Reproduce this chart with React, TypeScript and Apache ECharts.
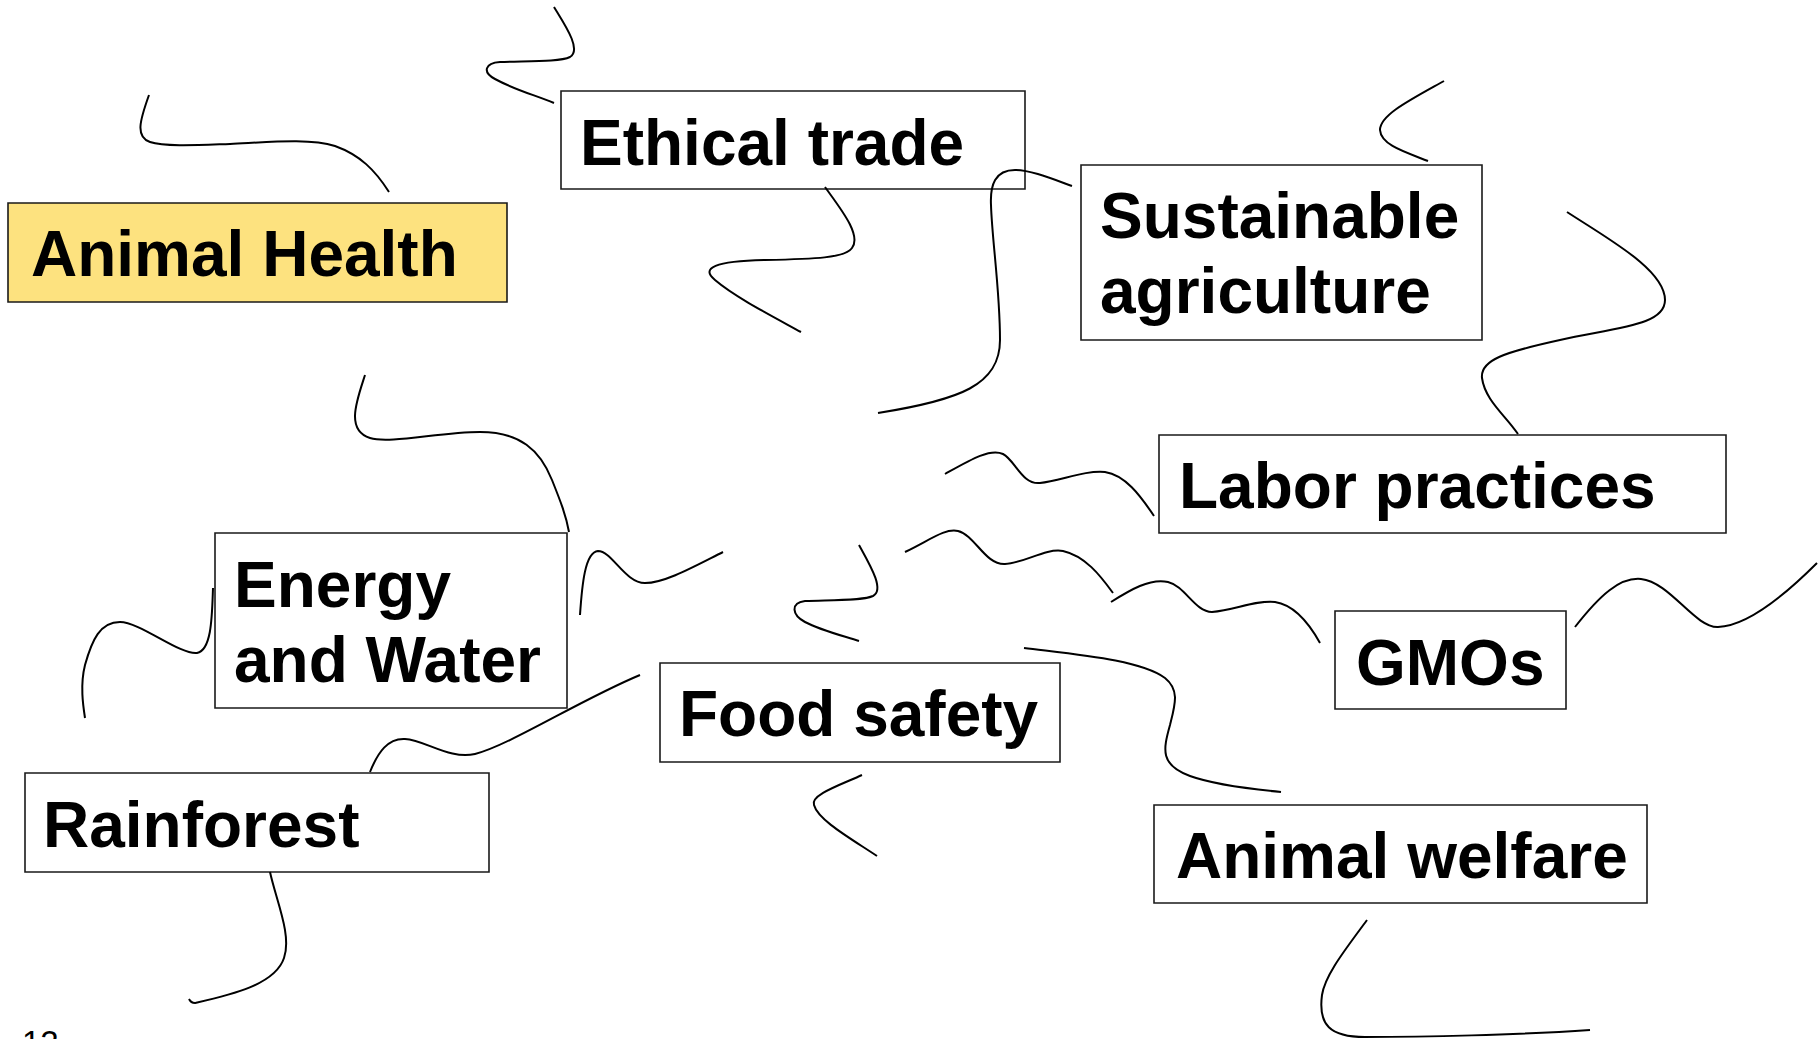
import React, { useEffect, useRef } from "react";
import * as echarts from "echarts";

// Topic labels (one entry per box, line breaks as "\n")
const topics: string[] = [
  "Animal Health",
  "Ethical trade",
  "Sustainable\nagriculture",
  "Labor practices",
  "Energy\nand Water",
  "GMOs",
  "Food safety",
  "Rainforest",
  "Animal welfare",
];
const highlighted: string[] = ["Animal Health"];
const pageNumber = "12";

// Layout of each box: [left, top, right, bottom, textX, firstBaseline]
const boxLayout: number[][] = [
  [8, 203, 507, 302, 31, 276],
  [561, 91, 1025, 189, 580, 165],
  [1081, 165, 1482, 340, 1100, 238],
  [1159, 435, 1726, 533, 1179, 508],
  [215, 533, 567, 708, 234, 607],
  [1335, 611, 1566, 709, 1356, 685],
  [660, 663, 1060, 762, 679, 736],
  [25, 773, 489, 872, 43, 847],
  [1154, 805, 1647, 903, 1176, 878],
];

// Decorative squiggle paths (SVG path data)
const squiggles: string[] = [
  "M149,95 C140,120 135,137 150,142 C165,147 200,145 230,144 C270,142 310,138 335,146 C360,155 375,170 389,192",
  "M554,7 C565,25 582,50 570,57 C560,62 530,61 500,62 C485,63 482,72 495,79 C515,90 535,95 554,103",
  "M825,187 C840,208 862,235 852,248 C845,258 815,259 765,260 C715,261 700,268 715,280 C735,297 770,315 801,332",
  "M1072,186 C1050,178 1030,170 1015,170 C995,170 990,185 991,205 C992,240 1000,290 1000,340 C1000,385 960,400 878,413",
  "M1444,81 C1410,100 1380,115 1380,130 C1381,145 1405,152 1428,161",
  "M1567,212 C1610,240 1665,270 1665,300 C1665,325 1620,327 1560,340 C1505,352 1480,360 1482,378 C1485,400 1505,415 1518,434",
  "M580,615 C582,585 585,552 598,551 C612,551 625,583 645,583 C665,583 695,566 723,552",
  "M859,545 C870,565 885,590 873,596 C862,601 830,600 805,601 C790,603 792,615 805,622 C820,630 840,635 859,641",
  "M945,474 C970,460 990,448 1003,454 C1015,460 1022,485 1040,483 C1060,481 1085,470 1105,472 C1125,475 1140,495 1154,516",
  "M905,552 C930,540 945,528 958,531 C975,535 985,565 1005,564 C1025,563 1045,548 1063,551 C1085,556 1100,575 1113,593",
  "M1111,602 C1130,590 1150,578 1168,582 C1185,586 1195,612 1212,612 C1235,610 1255,600 1275,602 C1295,605 1310,625 1320,643",
  "M1575,627 C1600,595 1620,577 1641,579 C1670,582 1695,628 1718,627 C1750,626 1790,590 1817,563",
  "M1024,648 C1080,655 1140,660 1165,678 C1180,690 1175,705 1170,725 C1163,750 1160,765 1190,776 C1215,785 1250,789 1281,792",
  "M862,775 C840,785 810,795 814,805 C818,820 850,838 877,856",
  "M365,375 C357,400 345,430 370,438 C390,444 440,432 480,432 C520,432 540,450 552,480 C560,500 566,515 569,532",
  "M213,588 C212,615 212,650 197,653 C180,655 140,622 120,622 C100,622 92,640 85,665 C80,685 83,705 85,718",
  "M370,772 C378,752 388,738 405,739 C425,740 450,760 475,754 C510,745 580,700 640,675",
  "M270,872 C276,900 292,935 284,958 C275,985 230,995 195,1003 C192,1003 190,1001 189,999",
  "M1367,920 C1345,950 1325,975 1322,995 C1318,1025 1330,1037 1365,1037 C1420,1037 1520,1035 1590,1030",
];

const FONT_FAMILY = "Liberation Sans";
const LABEL_SIZE = 64;
const LINE_GAP = 75;
const CENTRAL_OFFSET = 0.3465; // em distance from baseline to central baseline

let registered = false;
function registerSquiggles() {
  if (registered) return;
  squiggles.forEach((d, i) => {
    echarts.graphic.registerShape("squiggle" + i, echarts.graphic.extendPath(d, {}) as any);
  });
  registered = true;
}

export default function App() {
  const ref = useRef<HTMLDivElement>(null);
  useEffect(() => {
    if (!ref.current) return;
    registerSquiggles();
    const chart = echarts.init(ref.current, undefined, { renderer: "svg" });

    const elements: any[] = [];

    topics.forEach((label, i) => {
      const [l, t, r, b, tx, base] = boxLayout[i];
      elements.push({
        type: "rect",
        shape: { x: l, y: t, width: r - l, height: b - t },
        style: {
          fill: highlighted.includes(label) ? "#FDE27F" : "#fff",
          stroke: "#1a1a1a",
          lineWidth: 1.6,
        },
      });
      label.split("\n").forEach((line, j) => {
        elements.push({
          type: "text",
          x: tx,
          y: base + j * LINE_GAP - CENTRAL_OFFSET * LABEL_SIZE,
          style: {
            text: line,
            fill: "#000",
            fontFamily: FONT_FAMILY,
            fontWeight: "bold",
            fontSize: LABEL_SIZE,
            align: "left",
            verticalAlign: "middle",
          },
        });
      });
    });

    squiggles.forEach((_, i) => {
      elements.push({
        type: "squiggle" + i,
        silent: true,
        style: { stroke: "#000", fill: "none", lineWidth: 2 },
      });
    });

    elements.push({
      type: "text",
      x: 22,
      y: 1054 - CENTRAL_OFFSET * 33,
      style: {
        text: pageNumber,
        fill: "#000",
        fontFamily: FONT_FAMILY,
        fontSize: 33,
        align: "left",
        verticalAlign: "middle",
      },
    });

    chart.setOption({
      animation: false,
      backgroundColor: "#ffffff",
      graphic: { elements },
    });
    return () => chart.dispose();
  }, []);

  return (
    <div
      ref={ref}
      style={{ position: "fixed", left: 0, top: 0, width: 1819, height: 1039, background: "#fff" }}
    />
  );
}
